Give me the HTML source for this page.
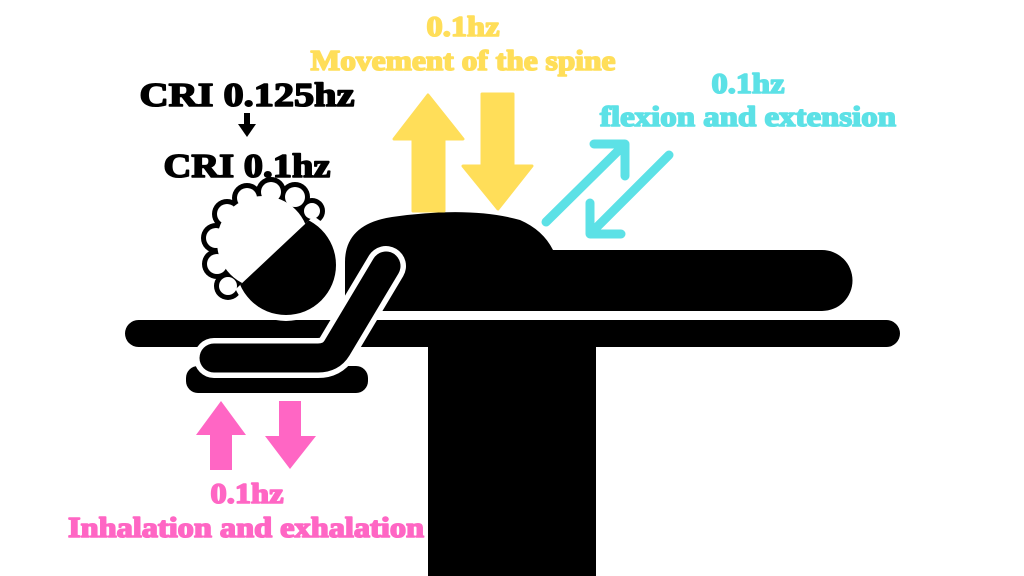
<!DOCTYPE html>
<html><head><meta charset="utf-8"><style>
html,body{margin:0;padding:0;background:#fff;}
svg{display:block;}
text{font-family:"Liberation Serif",serif;font-weight:bold;}
</style></head><body>
<svg width="1024" height="576" viewBox="0 0 1024 576" xmlns="http://www.w3.org/2000/svg">
<rect width="1024" height="576" fill="#fff"/>
<rect x="428" y="340" width="168" height="236" fill="#000"/>
<rect x="125" y="320" width="775" height="27" rx="13.5" fill="#000"/>
<path d="M345 311 L345 262 Q345 224 392 217 Q470 206 520 220 Q543 230 553 250 L822 250 A30 30 0 0 1 822 311 Z" fill="#000"/>
<rect x="340" y="311" width="520" height="5" fill="#fff"/>
<!-- hair -->
<g transform="translate(1,6)">
<g fill="#000">
<circle cx="226" cy="208" r="15"/><circle cx="215" cy="232" r="15"/><circle cx="216" cy="258" r="15"/><circle cx="227" cy="280" r="14"/>
<circle cx="246" cy="192" r="15"/><circle cx="270" cy="186" r="15"/><circle cx="294" cy="191" r="15"/><circle cx="311" cy="205" r="13"/>
<circle cx="262" cy="235" r="50"/>
</g>
<g fill="#fff">
<circle cx="226" cy="208" r="10"/><circle cx="215" cy="232" r="10"/><circle cx="216" cy="258" r="10"/><circle cx="227" cy="280" r="9"/>
<circle cx="246" cy="192" r="10"/><circle cx="270" cy="186" r="10"/><circle cx="294" cy="191" r="10"/><circle cx="311" cy="205" r="8"/>
<circle cx="262" cy="236" r="46"/>
</g>
</g>
<!-- head -->
<clipPath id="hc"><polygon points="222,302 320,210 400,210 400,400 200,400"/></clipPath>
<circle cx="286" cy="265" r="56" fill="#fff" clip-path="url(#hc)"/>
<circle cx="286" cy="265" r="50" fill="#000" clip-path="url(#hc)"/>
<rect x="186" y="366" width="182" height="27" rx="12" fill="#000"/>
<path d="M386 266 L337 348 Q331 358 318 358 L214 358" fill="none" stroke="#fff" stroke-width="40" stroke-linecap="round" stroke-linejoin="round"/>
<path d="M386 266 L337 348 Q331 358 318 358 L214 358" fill="none" stroke="#000" stroke-width="29" stroke-linecap="round" stroke-linejoin="round"/>
<g fill="#ffde59" stroke="#ffde59" stroke-width="3" stroke-linejoin="round">
<polygon points="428,95 463,139 444,139 444,211 413,211 413,139 394,139"/>
<polygon points="482,94 513,94 513,166 532,166 498,209 463,166 482,166"/>
</g>
<g stroke="#5ce1e6" stroke-width="9" stroke-linecap="round" fill="none" stroke-linejoin="round">
<line x1="546" y1="222" x2="622" y2="147"/>
<polyline points="594,144 625,144 625,176"/>
<line x1="669" y1="155" x2="592" y2="232"/>
<polyline points="590,203 590,234 621,234"/>
</g>
<g fill="#ff66c4">
<polygon points="221,401 246,435 232,435 232,470 210,470 210,435 196,435"/>
<polygon points="279,401 301,401 301,436 316,436 290,469 265,436 279,436"/>
</g>
<rect x="244" y="113" width="6" height="14" fill="#000"/>
<polygon points="238,124 256,124 247,137" fill="#000"/>
<g stroke-width="1.6" stroke-linejoin="round">
<text x="247" y="106" font-size="34" text-anchor="middle" fill="#000" stroke="#000" textLength="215" lengthAdjust="spacingAndGlyphs">CRI 0.125hz</text>
<text x="247" y="177" font-size="34" text-anchor="middle" fill="#000" stroke="#000" textLength="167" lengthAdjust="spacingAndGlyphs">CRI 0.1hz</text>
<text x="463" y="36" font-size="28" text-anchor="middle" fill="#ffde59" stroke="#ffde59" textLength="73" lengthAdjust="spacingAndGlyphs">0.1hz</text>
<text x="463" y="70" font-size="28" text-anchor="middle" fill="#ffde59" stroke="#ffde59" textLength="305" lengthAdjust="spacingAndGlyphs">Movement of the spine</text>
<text x="748" y="93" font-size="28" text-anchor="middle" fill="#5ce1e6" stroke="#5ce1e6" textLength="73" lengthAdjust="spacingAndGlyphs">0.1hz</text>
<text x="748" y="126" font-size="28" text-anchor="middle" fill="#5ce1e6" stroke="#5ce1e6" textLength="296" lengthAdjust="spacingAndGlyphs">flexion and extension</text>
<text x="247" y="503" font-size="28" text-anchor="middle" fill="#ff66c4" stroke="#ff66c4" textLength="73" lengthAdjust="spacingAndGlyphs">0.1hz</text>
<text x="246" y="537" font-size="28" text-anchor="middle" fill="#ff66c4" stroke="#ff66c4" textLength="356" lengthAdjust="spacingAndGlyphs">Inhalation and exhalation</text>
</g>
</svg>
</body></html>
